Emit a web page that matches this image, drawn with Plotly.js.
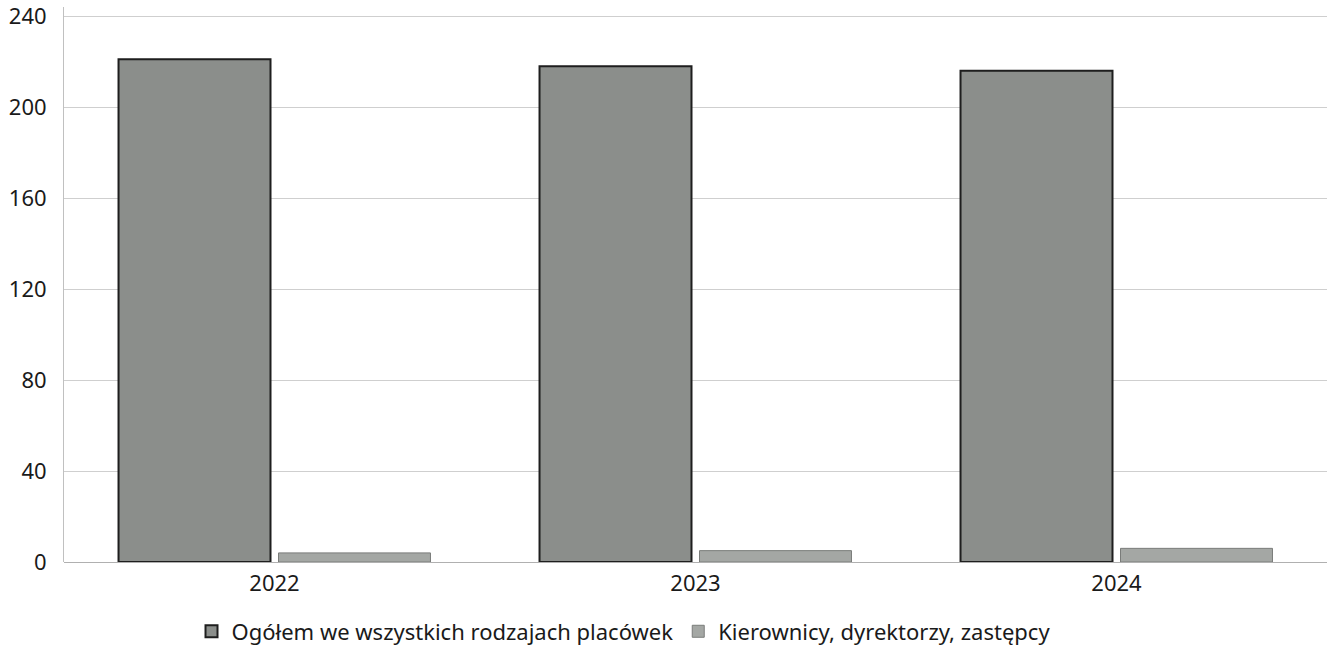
<!DOCTYPE html>
<html>
<head>
<meta charset="utf-8">
<script src="https://cdn.plot.ly/plotly-3.0.1.min.js"></script>
<style>
  html, body { margin: 0; padding: 0; background: #fff; }
  #chart { width: 1329px; height: 647px; }
</style>
</head>
<body>
<div id="chart"></div>
<script>
const years = ['2022', '2023', '2024'];
const ogolem = [221, 218, 216];
const kierownicy = [4, 5, 6];
const yTicks = [0, 40, 80, 120, 160, 200, 240];

const traces = [
  {
    x: years,
    y: ogolem,
    type: 'bar',
    name: 'Ogółem we wszystkich rodzajach placówek',
    marker: { color: '#8b8e8b', line: { color: '#1e1e1e', width: 2 } },
    hoverinfo: 'y'
  },
  {
    x: years,
    y: kierownicy,
    type: 'bar',
    name: 'Kierownicy, dyrektorzy, zastępcy',
    marker: { color: '#a4a7a4', line: { color: '#7a7c7a', width: 1 } },
    hoverinfo: 'y'
  }
];

const layout = {
  width: 1329,
  height: 647,
  margin: { l: 64, r: 2, t: 7, b: 85, autoexpand: false },
  paper_bgcolor: '#fff',
  plot_bgcolor: '#fff',
  font: { family: 'Noto Sans, Open Sans, sans-serif', size: 22, color: '#1a1a1a' },
  barmode: 'group',
  bargap: 0.24,
  bargroupgap: 0.05,
  showlegend: true,
  legend: {
    orientation: 'h',
    x: 0.443,
    xanchor: 'center',
    yref: 'container',
    y: 0.024,
    yanchor: 'middle',
    font: { size: 22 },
    itemwidth: 30,
    tracegroupgap: 0
  },
  xaxis: {
    type: 'category',
    showgrid: false,
    showline: false,
    ticks: '',
    tickfont: { size: 22 },
    ticklabelstandoff: 6
  },
  yaxis: {
    range: [0, 244],
    tickvals: yTicks,
    ticktext: yTicks.map(String),
    ticklabeloverflow: 'allow',
    showgrid: true,
    gridcolor: '#cfcfcf',
    gridwidth: 1,
    zeroline: true,
    zerolinecolor: '#b0b0b0',
    zerolinewidth: 1,
    showline: true,
    linecolor: '#c0c0c0',
    linewidth: 1,
    ticks: '',
    tickfont: { size: 22 },
    ticklabelstandoff: 12
  }
};

Plotly.newPlot('chart', traces, layout, { displayModeBar: false, staticPlot: true });
</script>
</body>
</html>
